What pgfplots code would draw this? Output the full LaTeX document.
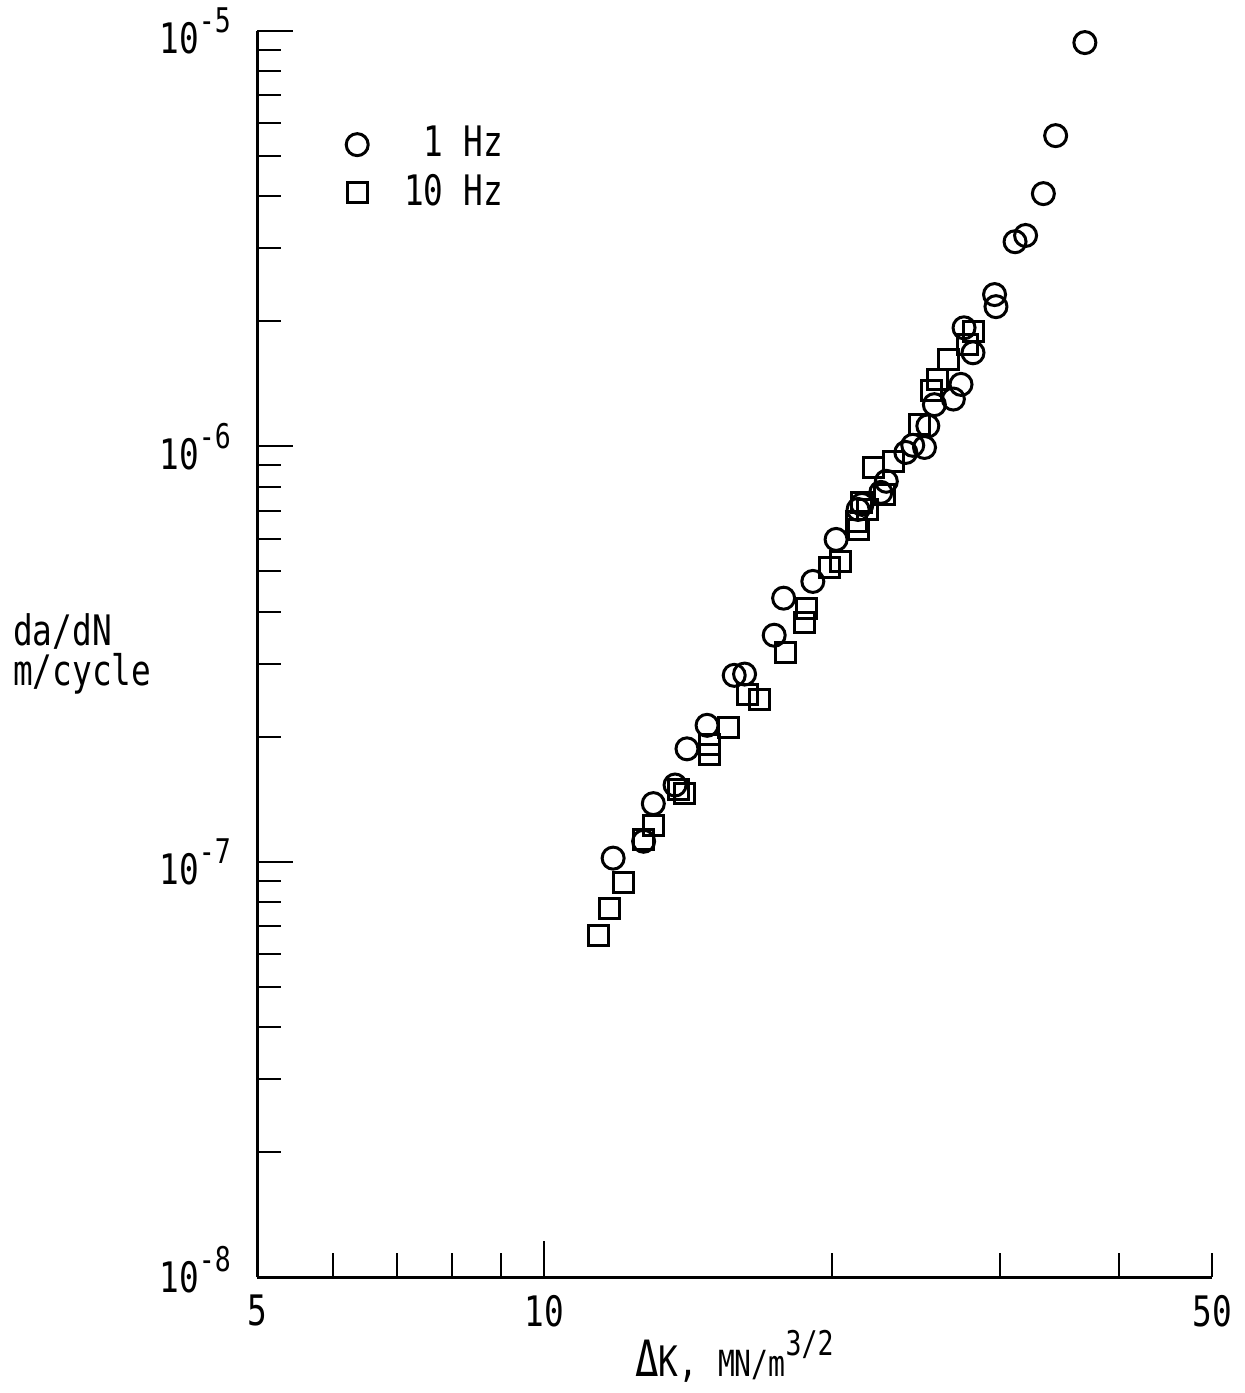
\documentclass[border=0pt]{standalone}
\usepackage{fontspec}
\setmainfont{DejaVu Sans Mono}[FakeStretch=0.78]
\usepackage{pgfplots}
\pgfplotsset{compat=1.18}
\newcommand{\ex}[1]{\raisebox{0.5em}{\fontsize{8.5}{9}\selectfont #1}}

\begin{document}
\begin{tikzpicture}[font=\fontsize{10.5}{12.6}\selectfont]
\begin{axis}[
    name=ax,
    xmode=log, ymode=log,
    scale only axis,
    width=238.75pt, height=311.5pt,
    xmin=5, xmax=50,
    ymin=1e-8, ymax=1e-5,
    axis x line*=bottom, axis y line*=left,
    axis line style={line width=0.75pt},
    tick align=inside,
    tick style={line width=0.5pt, black},
    major tick length=9pt, minor tick length=6pt,
    xtick={10}, xticklabels={10},
    minor xtick={6,7,8,9,20,30,40},
    extra x ticks={5,50}, extra x tick labels={5,50},
    extra x tick style={major tick length=6pt},
    ytick={1e-8,1e-7,1e-6,1e-5},
    yticklabels={\raisebox{4pt}{10\ex{-8}},10\ex{-7},10\ex{-6},10\ex{-5}},
    minor ytick={2e-8,3e-8,4e-8,5e-8,6e-8,7e-8,8e-8,9e-8,
                 2e-7,3e-7,4e-7,5e-7,6e-7,7e-7,8e-7,9e-7,
                 2e-6,3e-6,4e-6,5e-6,6e-6,7e-6,8e-6,9e-6},
    yticklabel style={xshift=-3pt},
    xticklabel style={yshift=-1pt},
    xlabel={{\fontsize{12.5}{14}\selectfont Δ}K, {\fontsize{9}{10}\selectfont MN/m}\ex{3/2}},
    xlabel style={yshift=6pt},
    ylabel={da/dN\\m/cycle},
    ylabel style={rotate=-90, align=left, anchor=west, at={(rel axis cs:0,0.5)}, xshift=-64.5pt,
                  font=\fontsize{10.5}{10}\selectfont},
    legend style={draw=none, fill=none, at={(rel axis cs:0.08,0.937)}, anchor=north west,
                  row sep=-1.25pt, column sep=7pt},
    legend cell align=left,
]
\addplot[only marks, mark=o, mark size=2.75pt, line width=0.75pt] coordinates {
    (36.8,9.38e-6) (34.3,5.60e-6) (33.3,4.06e-6) (31.9,3.22e-6)
    (31.1,3.11e-6) (29.6,2.32e-6) (29.7,2.17e-6) (27.5,1.93e-6)
    (28.1,1.68e-6) (27.3,1.41e-6) (26.8,1.30e-6) (25.6,1.26e-6)
    (25.2,1.12e-6) (25.0,0.994e-6) (24.3,1.006e-6) (23.9,0.967e-6)
    (22.8,0.824e-6) (22.5,0.775e-6) (21.5,0.725e-6) (21.3,0.705e-6)
    (20.2,0.597e-6) (19.1,0.473e-6) (17.8,0.431e-6) (17.4,0.351e-6)
    (16.2,0.283e-6) (15.8,0.281e-6) (14.8,0.213e-6) (14.1,0.187e-6)
    (13.7,0.153e-6) (13.0,0.138e-6) (12.7,0.112e-6) (11.8,0.102e-6)
};
\addlegendentry{\hphantom{1}1 Hz}
\addplot[only marks, mark=square, mark size=2.5pt, line width=0.75pt] coordinates {
    (28.1,1.89e-6) (27.7,1.76e-6) (26.5,1.62e-6) (25.8,1.45e-6)
    (25.4,1.36e-6) (24.7,1.13e-6) (23.2,0.920e-6) (22.1,0.890e-6)
    (22.7,0.766e-6) (21.8,0.705e-6) (21.5,0.733e-6) (21.2,0.660e-6)
    (21.3,0.631e-6) (20.4,0.529e-6) (19.9,0.511e-6) (18.8,0.408e-6)
    (18.7,0.377e-6) (17.9,0.319e-6) (16.8,0.246e-6) (16.3,0.252e-6)
    (15.6,0.210e-6) (14.9,0.192e-6) (14.9,0.181e-6) (14.0,0.146e-6)
    (13.8,0.149e-6) (13.0,0.122e-6) (12.7,0.113e-6) (12.1,0.0893e-6)
    (11.7,0.0773e-6) (11.4,0.0665e-6)
};
\addlegendentry{10 Hz}
\end{axis}
\pgfresetboundingbox
\path ([shift={(-64.25pt,-29pt)}]ax.south west) rectangle ([shift={(8pt,7.75pt)}]ax.north east);
\end{tikzpicture}
\end{document}
